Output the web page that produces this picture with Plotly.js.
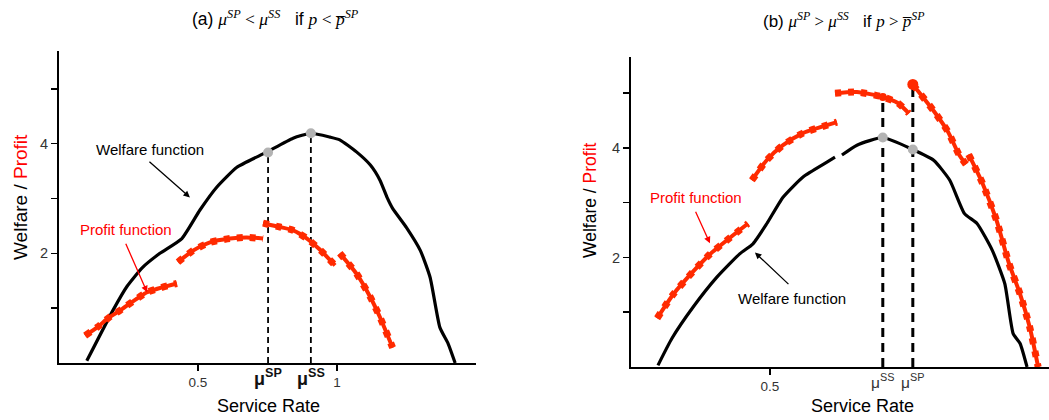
<!DOCTYPE html>
<html>
<head>
<meta charset="utf-8">
<script src="https://cdn.plot.ly/plotly-3.0.1.min.js"></script>
<style>html,body{margin:0;padding:0;background:#fff;}#chart{width:1049px;height:420px;}</style>
</head>
<body>
<div id="chart"></div>
<script>
// ---------- Panel (a) data ----------
const welfareA_x = [0.10,0.194,0.245,0.30,0.363,0.442,0.507,0.568,0.64,0.745,0.842,0.906,0.975,1.01,1.07,1.12,1.155,1.18,1.20,1.25,1.30,1.335,1.37,1.40,1.425];
const welfareA_y = [0.04,0.96,1.40,1.74,2.0,2.27,2.79,3.21,3.57,3.84,4.10,4.19,4.12,4.07,3.85,3.61,3.33,3.02,2.82,2.47,2.05,1.56,0.65,0.35,0];
const profitA = [
  {x:[0.094,0.137,0.18,0.22,0.317,0.424], y:[0.50,0.65,0.83,0.96,1.29,1.45]},
  {x:[0.428,0.482,0.543,0.615,0.676,0.734], y:[1.84,2.05,2.20,2.27,2.29,2.27]},
  {x:[0.734,0.795,0.842,0.892,0.94,0.993], y:[2.55,2.48,2.42,2.27,2.06,1.78]},
  {x:[1.01,1.07,1.12,1.155,1.20], y:[2.0,1.63,1.20,0.83,0.28]}
];
const muA = [0.752, 0.906];          // mu^SP, mu^SS
const muA_top = [3.84, 4.19];        // welfare at mu
const muA_labels = ['μ<sup>SP</sup>', 'μ<sup>SS</sup>'];

// ---------- Panel (b) data ----------
const welfareB1_x = [0.097,0.147,0.223,0.309,0.392,0.439,0.489,0.547,0.619,0.705,0.734];
const welfareB1_y = [0.03,0.52,1.09,1.64,2.07,2.25,2.62,3.10,3.47,3.74,3.83];
const welfareB2_x = [0.759,0.813,0.906,1.014,1.09,1.147,1.20,1.245,1.30,1.345,1.375,1.40,1.425];
const welfareB2_y = [3.87,4.05,4.19,3.97,3.77,3.41,2.80,2.62,2.13,1.52,0.61,0.43,0];
const profitB = [
  {x:[0.094,0.151,0.223,0.284,0.356,0.421], y:[0.89,1.32,1.74,2.06,2.36,2.62]},
  {x:[0.435,0.489,0.547,0.619,0.741], y:[3.41,3.78,4.05,4.27,4.47]},
  {x:[0.734,0.813,0.906,0.96,1.0], y:[5.0,5.02,4.93,4.82,4.63]},
  {x:[1.014,1.09,1.14,1.18,1.205], y:[5.16,4.67,4.30,3.88,3.70]},
  {x:[1.215,1.265,1.315,1.36,1.40,1.435,1.465], y:[3.88,3.35,2.68,1.89,1.33,0.72,0]}
];
const muB = [0.906, 1.014];          // mu^SS, mu^SP
const muB_welfare = [4.19, 3.97];
const muB_profit = [4.93, 5.16];
const muB_labels = ['μ<sup>SS</sup>', 'μ<sup>SP</sup>'];

// tick labels
const yTickVals = [1,2,3,4,5];
const yTickText = ['','2','','4',''];
const xTickValsA = [0.5,1];
const xTickTextA = ['0.5','1'];
const xTickValsB = [0.5];
const xTickTextB = ['0.5'];

const RED = '#ff2a00';
const traces = [];

function redSeg(seg, xa, ya){
  traces.push({x:seg.x, y:seg.y, xaxis:xa, yaxis:ya, mode:'lines', line:{color:RED, width:4, shape:'spline', smoothing:0.6}, hoverinfo:'skip'});
  traces.push({x:seg.x, y:seg.y, xaxis:xa, yaxis:ya, mode:'lines', line:{color:RED, width:7, dash:'6px,7px', shape:'spline', smoothing:0.6}, hoverinfo:'skip'});
}
const WLINE = {color:'#000', width:3.2, shape:'spline', smoothing:0.5};

// Panel a
muA.forEach((m,i)=>{
  traces.push({x:[m,m], y:[0,muA_top[i]], xaxis:'x', yaxis:'y', mode:'lines', line:{color:'#000', width:1.8, dash:'6px,4px'}});
});
traces.push({x:welfareA_x, y:welfareA_y, xaxis:'x', yaxis:'y', mode:'lines', line:WLINE});
profitA.forEach(s=>redSeg(s,'x','y'));
traces.push({x:muA, y:muA_top, xaxis:'x', yaxis:'y', mode:'markers', marker:{color:'#b3b3b3', size:10}, cliponaxis:false});

// Panel b
muB.forEach((m,i)=>{
  traces.push({x:[m,m], y:[0,muB_profit[i]], xaxis:'x2', yaxis:'y2', mode:'lines', line:{color:'#000', width:3, dash:'9px,6px'}});
});
traces.push({x:welfareB1_x, y:welfareB1_y, xaxis:'x2', yaxis:'y2', mode:'lines', line:WLINE});
traces.push({x:welfareB2_x, y:welfareB2_y, xaxis:'x2', yaxis:'y2', mode:'lines', line:WLINE});
profitB.forEach(s=>redSeg(s,'x2','y2'));
traces.push({x:muB, y:muB_welfare, xaxis:'x2', yaxis:'y2', mode:'markers', marker:{color:'#b3b3b3', size:10}, cliponaxis:false});
traces.push({x:[muB[1]], y:[muB_profit[1]], xaxis:'x2', yaxis:'y2', mode:'markers', marker:{color:RED, size:11}, cliponaxis:false});
traces.push({x:[muB[0]], y:[muB_profit[0]], xaxis:'x2', yaxis:'y2', mode:'markers', marker:{color:RED, size:8}, cliponaxis:false});

const FONT = 'Arial, Liberation Sans, sans-serif';
const SERIF = 'font-family:Liberation Serif,Times New Roman,serif';
function axisX(dom, rng, tv, tt){
  return {domain:dom, range:rng, showline:true, linecolor:'#000', linewidth:2, showgrid:false, zeroline:false,
    tickvals:tv, ticktext:tt, ticks:'outside', ticklen:6, tickwidth:1.5, tickcolor:'#000',
    tickfont:{family:FONT, size:13.5, color:'#333'}, fixedrange:true};
}
function axisY(dom, rng, anchor){
  return {domain:dom, range:rng, anchor:anchor, showline:true, linecolor:'#000', linewidth:2, showgrid:false, zeroline:false,
    tickvals:yTickVals, ticktext:yTickText, ticks:'outside', ticklen:6, tickwidth:1.5, tickcolor:'#000',
    tickfont:{family:FONT, size:14.5, color:'#333'}, fixedrange:true};
}
function pa(x, y, text, font, extra){
  return Object.assign({xref:'paper', yref:'paper', x:x/1049, y:1-y/420, xanchor:'center', yanchor:'middle', showarrow:false, font:font, text:text}, extra||{});
}

const PBAR = 'p&#773;';
const annotations = [
  // titles
  pa(275, 18, '(a) <span style="'+SERIF+'"><i>μ<sup>SP</sup></i> &lt; <i>μ<sup>SS</sup></i></span>&nbsp;&nbsp; if <span style="'+SERIF+'"><i>p</i> &lt; <i>'+PBAR+'<sup>SP</sup></i></span>', {family:FONT, size:17.5, color:'#000'}),
  pa(844, 20, '(b) <span style="'+SERIF+'"><i>μ<sup>SP</sup></i> &gt; <i>μ<sup>SS</sup></i></span>&nbsp;&nbsp; if <span style="'+SERIF+'"><i>p</i> &gt; <i>'+PBAR+'<sup>SP</sup></i></span>', {family:FONT, size:17, color:'#000'}),
  // y titles
  pa(20, 197, 'Welfare / <span style="color:red">Profit</span>', {family:FONT, size:19, color:'#000'}, {textangle:-90}),
  pa(590, 200, 'Welfare / <span style="color:red">Profit</span>', {family:FONT, size:17.5, color:'#000'}, {textangle:-90}),
  // x titles
  pa(268, 406, 'Service Rate', {family:FONT, size:18, color:'#000'}),
  pa(862, 406, 'Service Rate', {family:FONT, size:18, color:'#000'}),
  // panel a labels
  {xref:'x', yref:'y', x:0.327, y:3.90, showarrow:false, font:{family:FONT, size:15, color:'#000'}, text:'Welfare function'},
  {xref:'x', yref:'y', x:0.471, y:3.02, ax:-42, ay:-37, showarrow:true, arrowhead:2, arrowsize:1, arrowwidth:1.3, arrowcolor:'#000', text:''},
  {xref:'x', yref:'y', x:0.241, y:2.44, showarrow:false, font:{family:FONT, size:15, color:'red'}, text:'Profit function'},
  {xref:'x', yref:'y', x:0.317, y:1.29, ax:-22, ay:-50, showarrow:true, arrowhead:2, arrowsize:1, arrowwidth:1.3, arrowcolor:'red', text:''},
  // panel b labels
  {xref:'x2', yref:'y2', x:0.234, y:3.10, showarrow:false, font:{family:FONT, size:15, color:'red'}, text:'Profit function'},
  {xref:'x2', yref:'y2', x:0.284, y:2.26, ax:-15, ay:-33, showarrow:true, arrowhead:2, arrowsize:1, arrowwidth:1.3, arrowcolor:'red', text:''},
  {xref:'x2', yref:'y2', x:0.579, y:1.25, showarrow:false, font:{family:FONT, size:15, color:'#000'}, text:'Welfare function'},
  {xref:'x2', yref:'y2', x:0.446, y:2.09, ax:35, ay:33, showarrow:true, arrowhead:2, arrowsize:1, arrowwidth:1.3, arrowcolor:'#000', text:''}
];
muA.forEach((m,i)=>annotations.push({xref:'x', yref:'y', x:m, y:0, xanchor:'center', yanchor:'top', yshift:-1, showarrow:false,
  font:{family:FONT, size:18, color:'#111'}, text:'<b>'+muA_labels[i]+'</b>'}));
muB.forEach((m,i)=>annotations.push({xref:'x2', yref:'y2', x:m, y:0, xanchor:'center', yanchor:'top', yshift:-2, showarrow:false,
  font:{family:FONT, size:15.5, color:'#333'}, text:muB_labels[i]}));

const layout = {
  width:1049, height:420, margin:{l:0,r:0,t:0,b:0}, paper_bgcolor:'#fff', plot_bgcolor:'#fff', showlegend:false,
  xaxis: Object.assign(axisX([59/1049, 476/1049], [0,1.5], xTickValsA, xTickTextA), {anchor:'y'}),
  yaxis: axisY([1-363/420, 1-51/420], [0,5.69], 'x'),
  xaxis2: Object.assign(axisX([631/1049, 1], [0,1.504], xTickValsB, xTickTextB), {anchor:'y2'}),
  yaxis2: axisY([1-367/420, 1-57/420], [0,5.66], 'x2'),
  annotations: annotations
};
Plotly.newPlot('chart', traces, layout, {staticPlot:true, displayModeBar:false});
</script>
</body>
</html>
